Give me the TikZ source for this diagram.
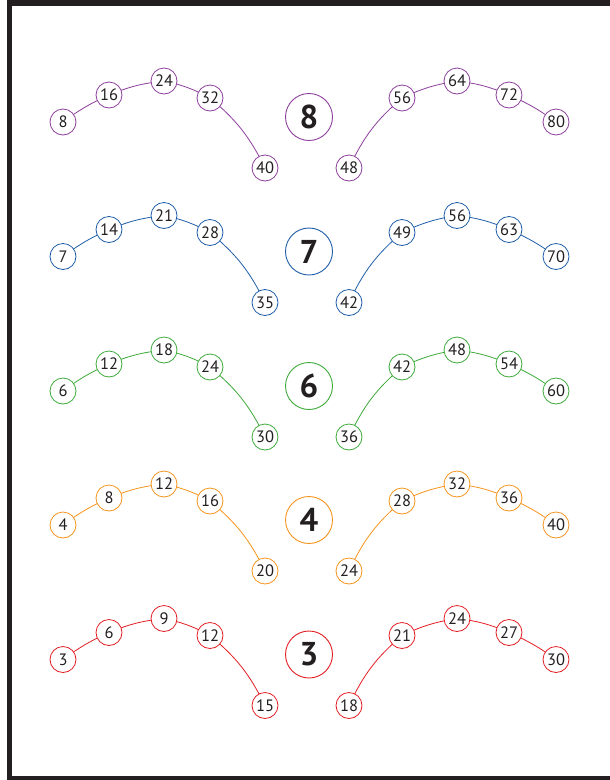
\documentclass[tikz,border=0pt]{standalone}
\usepackage{fontspec}
\setmainfont{PT Sans}
\definecolor{tx}{HTML}{231F20}
\definecolor{cpur}{HTML}{8E3F9E}
\definecolor{cblu}{HTML}{1F5EA8}
\definecolor{cgrn}{HTML}{3DAA3A}
\definecolor{cora}{HTML}{F7941D}
\definecolor{cred}{HTML}{E31E24}
\begin{document}
\begin{tikzpicture}[x=1pt,y=-1pt,
  num/.style={circle,draw,fill=white,line width=0.8pt,minimum size=26pt,inner sep=0pt,text=tx,font=\fontsize{16.5}{16.5}\selectfont},
  big/.style={circle,draw,fill=white,line width=0.9pt,minimum size=47pt,inner sep=0pt,text=tx,font=\fontsize{33}{33}\selectfont\bfseries},
  lnk/.style={line width=0.8pt}]
\useasboundingbox (0,0) rectangle (610,780);
\fill[white] (0,0) rectangle (610,780);
\draw[tx,line width=5pt] (9.5,-5) -- (9.5,778) -- (620,778);
\draw[tx,line width=6pt] (9.5,3) -- (620,3);
\foreach \col/\dy/\k [count=\r] in {cpur/0/8, cblu/134.5/7, cgrn/269/6, cora/403/4, cred/537.5/3}{
  \begin{scope}[yshift=-\dy pt,\col]
    \pgfmathtruncatemacro{\a}{\k}
    \pgfmathtruncatemacro{\b}{2*\k}
    \pgfmathtruncatemacro{\c}{3*\k}
    \pgfmathtruncatemacro{\d}{4*\k}
    \pgfmathtruncatemacro{\e}{5*\k}
    \pgfmathtruncatemacro{\f}{6*\k}
    \pgfmathtruncatemacro{\g}{7*\k}
    \pgfmathtruncatemacro{\h}{8*\k}
    \pgfmathtruncatemacro{\i}{9*\k}
    \pgfmathtruncatemacro{\j}{10*\k}
    \draw[lnk] (63,122) to[bend left=6] (109,95) to[bend left=8] (164,81) to[bend left=8] (210,98) to[bend left=12] (265,168);
    \draw[lnk] (349,168) to[bend left=12] (402,98) to[bend left=8] (457,81) to[bend left=8] (509,95) to[bend left=6] (556,122);
    \node[num] (a\r) at (63,122) {\a};
    \node[num] (b\r) at (109,95) {\b};
    \node[num] (c\r) at (164,81) {\c};
    \node[num] (d\r) at (210,98) {\d};
    \node[num] (e\r) at (265,168) {\e};
    \node[num] (f\r) at (349,168) {\f};
    \node[num] (g\r) at (402,98) {\g};
    \node[num] (h\r) at (457,81) {\h};
    \node[num] (i\r) at (509,95) {\i};
    \node[num] (j\r) at (556,122) {\j};
    \node[big] (k\r) at (309,117) {\k};
  \end{scope}
}
\end{tikzpicture}
\end{document}
